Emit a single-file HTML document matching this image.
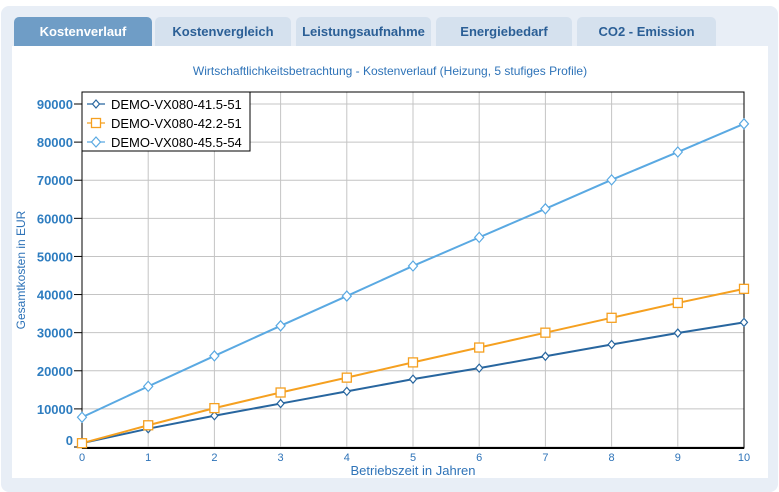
<!DOCTYPE html>
<html><head><meta charset="utf-8"><style>
body{margin:0;width:779px;height:492px;background:#fff;font-family:"Liberation Sans",sans-serif;overflow:hidden}
.panel{position:absolute;left:1px;top:6px;width:777px;height:486px;background:#e8eef6;border-radius:8px}
.inner{position:absolute;left:12px;top:46px;width:756px;height:432px;background:#fff}
.tab{position:absolute;top:17px;height:29px;background:#d5e1ee;color:#2b5f96;font-weight:bold;font-size:13px;text-align:center;line-height:29px;border-radius:5px 5px 0 0}
.tab.active{background:#6f9dc6;color:#fff}
svg{position:absolute;left:0;top:0}
</style></head><body>
<div class="panel"></div>
<div class="inner"></div>
<div class="tab active" style="left:14px;width:138px">Kostenverlauf</div>
<div class="tab" style="left:155px;width:136px">Kostenvergleich</div>
<div class="tab" style="left:296px;width:135px">Leistungsaufnahme</div>
<div class="tab" style="left:436px;width:136px">Energiebedarf</div>
<div class="tab" style="left:577px;width:139px">CO2 - Emission</div>
<svg id="c" width="779" height="492"></svg>
<script>
const years=[0,1,2,3,4,5,6,7,8,9,10];
const s1=[1000,4800,8200,11400,14600,17800,20700,23800,26900,29900,32700];
const s2=[1000,5700,10200,14300,18200,22200,26100,30000,33900,37800,41500];
const s3=[7800,15900,23900,31800,39600,47500,55000,62500,70100,77400,84800];
const yTicks=[0,10000,20000,30000,40000,50000,60000,70000,80000,90000];
const names=["DEMO-VX080-41.5-51","DEMO-VX080-42.2-51","DEMO-VX080-45.5-54"];
const colors=["#28669f","#f5a020","#5aa9e2"];
const L=82,R=744,T=92,B=448;
const x=v=>L+(v-0)/10*(R-L);
const y=v=>447-v/90000*(447-104);
const svg=document.getElementById('c');const NS="http://www.w3.org/2000/svg";
function mk(t,a,p){const e=document.createElementNS(NS,t);for(const k in a)e.setAttribute(k,a[k]);(p||svg).appendChild(e);return e;}
let e;
e=mk('text',{x:390,y:75,'text-anchor':'middle','font-size':12,fill:'#2e73b8'});e.textContent="Wirtschaftlichkeitsbetrachtung - Kostenverlauf (Heizung, 5 stufiges Profile)";


years.forEach(v=>{
 e=mk('line',{x1:x(v),x2:x(v),y1:T,y2:B,stroke:'#c4c4c4'});
 
 
 e=mk('text',{x:x(v),y:461,'text-anchor':'middle','font-size':11,fill:'#2e73b8'});e.textContent=v;
 
 
});
yTicks.forEach(v=>{
 e=mk('line',{x1:L,x2:R,y1:y(v),y2:y(v),stroke:'#c4c4c4'});
 
 
 mk('line',{x1:L-8,x2:L,y1:y(v),y2:y(v),stroke:'#000'});
 e=mk('text',{x:L-9,y:(v===0?y(v)-2:y(v)+5),'text-anchor':'end','font-size':13,'font-weight':'bold',fill:'#2e7dc0'});e.textContent=v;
 
 
});
mk('rect',{x:L,y:T,width:R-L,height:B-T,fill:'none',stroke:'#000','stroke-width':1});
mk('line',{x1:L,x2:R,y1:B,y2:B,stroke:'#000','stroke-width':2});
e=mk('text',{x:413,y:475,'text-anchor':'middle','font-size':13,fill:'#2e73b8'});e.textContent="Betriebszeit in Jahren";


e=mk('text',{x:0,y:0,'text-anchor':'middle','font-size':12,fill:'#2e73b8',transform:'translate(25,270) rotate(-90)'});e.textContent="Gesamtkosten in EUR";


function marker(i,cx,cy,g){
 if(i===1)return mk('rect',{x:cx-4.5,y:cy-4.5,width:9,height:9,fill:'#fff',stroke:colors[i],'stroke-width':1.3},g);
 const r=i===0?4:5;
 return mk('polygon',{points:`${cx},${cy-r} ${cx+r-0.5},${cy} ${cx},${cy+r} ${cx-r+0.5},${cy}`,fill:'#fff',stroke:colors[i],'stroke-width':1.2},g);
}
[s1,s2,s3].forEach((s,i)=>{
 const g=mk('g',{});
 
 
 mk('polyline',{points:s.map((v,j)=>x(years[j])+','+y(v)).join(' '),fill:'none',stroke:colors[i],'stroke-width':2},g);
 s.forEach((v,j)=>{e=marker(i,x(years[j]),y(v),g);
  
  });
});
const lg=mk('g',{});


mk('rect',{x:82,y:92,width:168,height:59,fill:'#fff',stroke:'#000'},lg);
names.forEach((n,i)=>{
 const yy=104+i*19;
 const g=mk('g',{},lg);
 
 
 mk('line',{x1:87,x2:105,y1:yy,y2:yy,stroke:colors[i],'stroke-width':1.2},g);
 marker(i,96,yy,g);
 e=mk('text',{x:111,y:yy+5,'font-size':13,fill:'#000'},g);e.textContent=n;
});
</script>
</body></html>
